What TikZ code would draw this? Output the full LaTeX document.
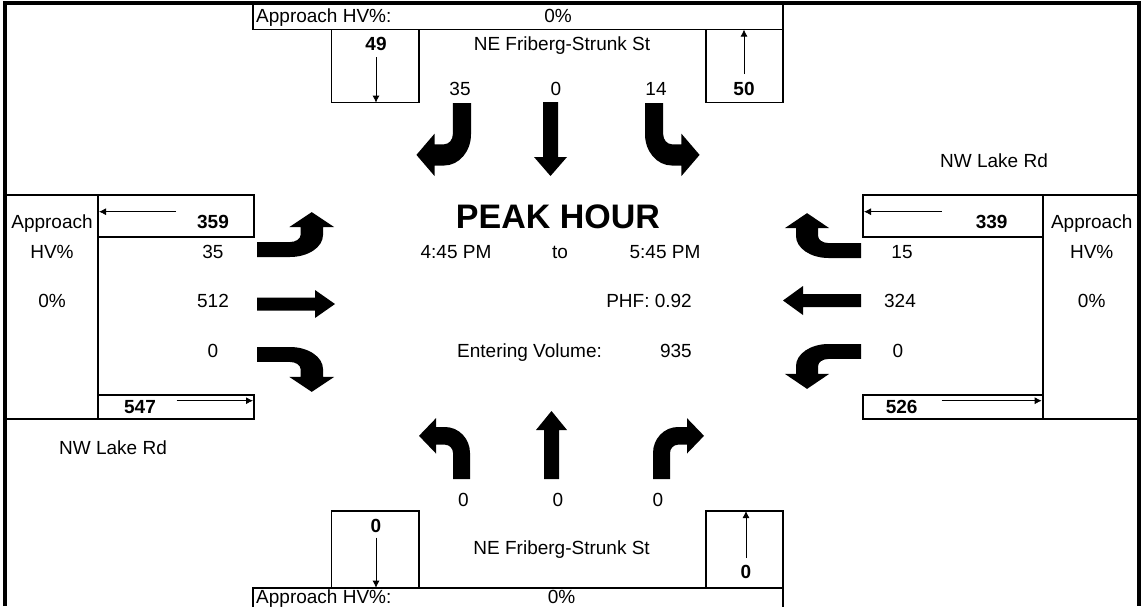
\documentclass[tikz,border=0pt]{standalone}
\usepackage{fontspec}
\setmainfont{Liberation Sans}
\usetikzlibrary{arrows.meta}
\newcommand\turnarrow[1]{\fill[bigarrow,#1] (0,0) -- (0,-25) .. controls (0,-38.8) and (11.2,-50) .. (25,-50) -- (34,-50) -- (34,-58.5) -- (51,-41.5) -- (34,-24.5) -- (34,-33) -- (25,-33) .. controls (20.6,-33) and (17,-29.4) .. (17,-25) -- (17,0) -- cycle;}
\begin{document}
\begin{tikzpicture}[x=1pt,y=-1pt,
  txt/.style={inner sep=0pt, text height=13.6pt, text depth=0pt, font=\fontsize{19}{22}\selectfont},
  btxt/.style={txt, font=\fontsize{19}{22}\selectfont\bfseries},
  box/.style={draw=black, line width=1.7pt},
  frame/.style={draw=black, line width=4pt},
  thinarrow/.style={draw=black, line width=0.8pt, -{Latex[length=7pt,width=7pt]}},
  bigarrow/.style={fill=black},
]
\useasboundingbox (0,0) rectangle (1141,606);
\clip (0,0) rectangle (1141,606);
\fill[white] (0,0) rectangle (1141,606);

% outer frame
\draw[frame] (4.7,606) -- (4.7,3.3) -- (1139,3.3) -- (1139,606);

% top boxes
\draw[box] (253,3.3) rectangle (783,29.6);
\draw[box] (331.6,29.6) rectangle (418.7,102.6);
\draw[box] (706,29.6) rectangle (783,102.6);
% bottom boxes
\draw[box] (253,587.7) rectangle (783,625);
\draw[box] (331.6,511) rectangle (418.7,587.7);
\draw[box] (706,511) rectangle (783,587.7);
% left boxes
\draw[box] (4.7,195) rectangle (97.7,419.3);
\draw[box] (97.7,195) rectangle (254,237.3);
\draw[box] (97.7,395) rectangle (254,419.3);
% right boxes
\draw[box] (1042.7,195) rectangle (1139,419.3);
\draw[box] (862.7,195) rectangle (1042.7,237.3);
\draw[box] (862.7,395) rectangle (1042.7,419.3);

% thin arrows
\coordinate (a49s) at (376,57);      \coordinate (a49e) at (376,102.6);
\coordinate (a50s) at (744,74);      \coordinate (a50e) at (744,29.6);
\coordinate (a359s) at (176,211.7);  \coordinate (a359e) at (99,211.7);
\coordinate (a547s) at (176.7,400.7);\coordinate (a547e) at (253,400.7);
\coordinate (a339s) at (941.7,211.7);\coordinate (a339e) at (864,211.7);
\coordinate (a526s) at (941.7,400.7);\coordinate (a526e) at (1041.7,400.7);
\coordinate (ab0s) at (376,537.7);   \coordinate (ab0e) at (376,587.7);
\coordinate (ab1s) at (746,558);     \coordinate (ab1e) at (746,511);
\draw[thinarrow] (a49s) -- (a49e);
\draw[thinarrow] (a50s) -- (a50e);
\draw[thinarrow] (a359s) -- (a359e);
\draw[thinarrow] (a547s) -- (a547e);
\draw[thinarrow] (a339s) -- (a339e);
\draw[thinarrow] (a526s) -- (a526e);
\draw[thinarrow] (ab0s) -- (ab0e);
\draw[thinarrow] (ab1s) -- (ab1e);

% big movement arrows
% southbound
\turnarrow{shift={(471,103)}, rotate=180, xscale=1.07, yscale=1.25}
\fill[bigarrow] (543,102) -- (558,102) -- (558,157) -- (567,157) -- (550.5,176) -- (534,157) -- (543,157) -- cycle;
\turnarrow{shift={(645,103)}, rotate=180, xscale=-1.07, yscale=1.25}
% northbound
\turnarrow{shift={(470,479)}, xscale=-1, yscale=1.04}
\fill[bigarrow] (544,479) -- (559,479) -- (559,430) -- (567,430) -- (551.5,411) -- (536,430) -- (544,430) -- cycle;
\turnarrow{shift={(653,479)}, yscale=1.04}
% eastbound
\turnarrow{shift={(257,257)}, rotate=-90, xscale=-0.88, yscale=1.32}
\fill[bigarrow] (257,297.5) -- (315,297.5) -- (315,290) -- (335,304) -- (315,318) -- (315,310.5) -- (257,310.5) -- cycle;
\turnarrow{shift={(257,347)}, rotate=-90, xscale=0.88, yscale=1.32}
% westbound
\turnarrow{shift={(861,258)}, rotate=90, xscale=0.88, yscale=1.3}
\fill[bigarrow] (861,294) -- (803,294) -- (803,286) -- (783,300.5) -- (803,315) -- (803,307) -- (861,307) -- cycle;
\turnarrow{shift={(861,344)}, rotate=90, xscale=-0.88, yscale=1.3}

% top texts
\node[txt, anchor=west] (hvTop) at (256,15.5) {Approach HV\%:};
\node[txt] (hvTopV) at (558,15.5) {0\%};
\node[btxt] (n49) at (376,44) {49};
\node[txt] (stTop) at (562,44) {NE Friberg-Strunk St};
\node[btxt] (n50) at (744,89) {50};
\node[txt] (sbR) at (460,89) {35};
\node[txt] (sbT) at (556,89) {0};
\node[txt] (sbL) at (656,89) {14};
\node[txt] (lakeTop) at (994,161) {NW Lake Rd};

% center texts
\node[inner sep=0pt, text height=24.3pt, text depth=0pt, font=\fontsize{34}{40}\selectfont\bfseries] (peak) at (558,216) {PEAK HOUR};
\node[txt] (t1) at (456,252) {4:45 PM};
\node[txt] (tto) at (560,252) {to};
\node[txt] (t2) at (665,252) {5:45 PM};
\node[txt, anchor=east] (phf) at (692,301) {PHF: 0.92};
\node[txt, anchor=west] (evl) at (457,351) {Entering Volume:};
\node[txt, anchor=east] (evv) at (692,351) {935};

% left texts
\node[txt] (lA) at (52,222) {Approach};
\node[txt] (lH) at (52,252) {HV\%};
\node[txt] (lP) at (52,301) {0\%};
\node[btxt] (n359) at (213,222) {359};
\node[txt] (ebL) at (213,252) {35};
\node[txt] (ebT) at (213,301) {512};
\node[txt] (ebR) at (213,351) {0};
\node[btxt] (n547) at (140,406.7) {547};
\node[txt] (lakeBot) at (113,448) {NW Lake Rd};

% right texts
\node[btxt] (n339) at (991.7,221.7) {339};
\node[txt] (rA) at (1091.7,222) {Approach};
\node[txt] (rH) at (1091.7,252) {HV\%};
\node[txt] (rP) at (1091.7,301) {0\%};
\node[txt] (wbR) at (902,252) {15};
\node[txt] (wbT) at (900,301) {324};
\node[txt] (wbL) at (898,351) {0};
\node[btxt] (n526) at (901.7,406.7) {526};

% bottom texts
\node[txt] (nbL) at (463.5,500) {0};
\node[txt] (nbT) at (558,500) {0};
\node[txt] (nbR) at (658,500) {0};
\node[btxt] (nb0a) at (376,525.7) {0};
\node[txt] (stBot) at (561.6,548) {NE Friberg-Strunk St};
\node[btxt] (nb0b) at (746,572) {0};
\node[txt, anchor=west] (hvBot) at (256,597) {Approach HV\%:};
\node[txt] (hvBotV) at (561.6,597) {0\%};
\end{tikzpicture}
\end{document}
